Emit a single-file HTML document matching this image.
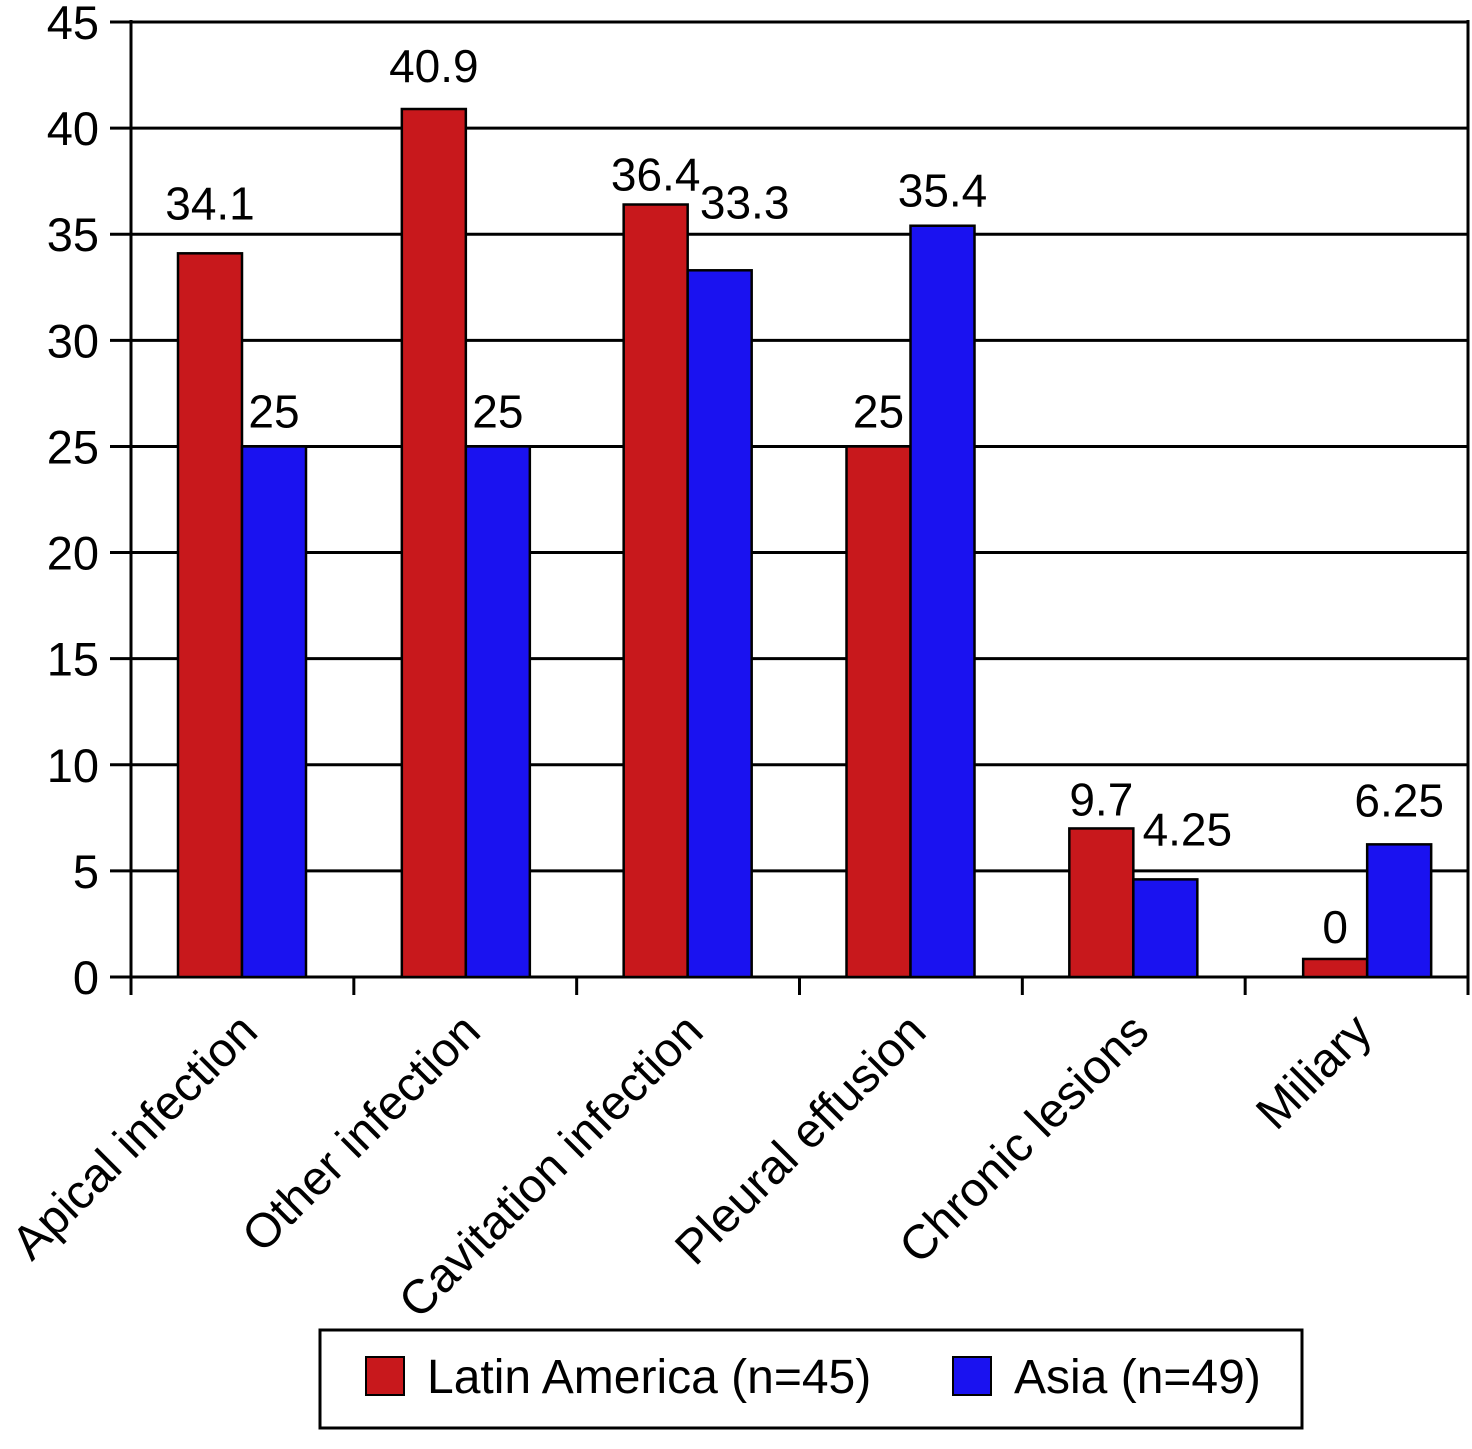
<!DOCTYPE html>
<html><head><meta charset="utf-8"><style>
html,body{margin:0;padding:0;background:#fff;}
svg{display:block;font-family:"Liberation Sans",Arial,sans-serif;}
</style></head><body>
<svg id="chart" width="1472" height="1449" viewBox="0 0 1472 1449" xmlns="http://www.w3.org/2000/svg">
<g id="grid"></g><g id="bars"></g><g id="labels"></g><g id="axes"></g>
<g>
<rect x="320" y="1330" width="982" height="98" fill="#fff" stroke="#000" stroke-width="3"/>
<rect x="366" y="1357" width="38" height="38" fill="#c8181c" stroke="#000" stroke-width="2"/>
<text x="427" y="1393" font-size="48">Latin America (n=45)</text>
<rect x="953" y="1357" width="38" height="38" fill="#1a12f0" stroke="#000" stroke-width="2"/>
<text x="1014" y="1393" font-size="48">Asia (n=49)</text>
</g>
</svg>
<script>
const categories = ["Apical infection","Other infection","Cavitation infection","Pleural effusion","Chronic lesions","Miliary"];
const latinValues = [34.1, 40.9, 36.4, 25, 7.0, 0.85];
const asiaValues = [25, 25, 33.3, 35.4, 4.6, 6.25];
const latinLabels = ["34.1","40.9","36.4","25","9.7","0"];
const asiaLabels = ["25","25","33.3","35.4","4.25","6.25"];
const yTicks = [0,5,10,15,20,25,30,35,40,45];

// layout-only nudges for value labels (pixels)
const latinNudgeY = [-34,-27,-14,-19,-13,-16];
const asiaNudgeX = [0,0,25,0,22,0];
const asiaNudgeY = [-19,-19,-52,-19,-34,-28];
const groupOffset = [47,48,47,47,47,58];

const NS = "http://www.w3.org/2000/svg";
const x0 = 131, x1 = 1468, yBase = 977, yTop = 22, yMax = 45;
const catW = (x1 - x0) / categories.length;
function y(v){ return yBase - v / yMax * (yBase - yTop); }
function xCat(i){ return x0 + i * catW; }
function mk(tag, attrs, parent){ const e = document.createElementNS(NS, tag); for (const k in attrs) e.setAttribute(k, attrs[k]); parent.appendChild(e); return e; }
const grid = document.getElementById('grid'), bars = document.getElementById('bars'), labels = document.getElementById('labels'), axes = document.getElementById('axes');

yTicks.forEach(t => {
  const l = mk('line', {x1:110, x2:x1, y1:y(t), y2:y(t), stroke:'#000', 'stroke-width':3}, grid);
  
  
  const tx = mk('text', {x:99, y:y(t)+17, 'text-anchor':'end', 'font-size':47}, axes);
  tx.textContent = t;
  
  
});
const ya = mk('line', {x1:x0, x2:x0, y1:yTop-2, y2:995, stroke:'#000', 'stroke-width':3}, axes);


const rb = mk('line', {x1:x1, x2:x1, y1:yTop-2, y2:995, stroke:'#000', 'stroke-width':3}, axes);


for (let i = 1; i < categories.length; i++) {
  const tk = mk('line', {x1:xCat(i), x2:xCat(i), y1:yBase, y2:995, stroke:'#000', 'stroke-width':3}, axes);
  
  
}
const bw = 64;
categories.forEach((c, i) => {
  const bx = xCat(i) + groupOffset[i];
  const r = mk('rect', {x:bx, y:y(latinValues[i]), width:bw, height:yBase - y(latinValues[i]), fill:'#c8181c', stroke:'#000', 'stroke-width':2.5}, bars);
  
  
  const b = mk('rect', {x:bx+bw, y:y(asiaValues[i]), width:bw, height:yBase - y(asiaValues[i]), fill:'#1a12f0', stroke:'#000', 'stroke-width':2.5}, bars);
  
  
  const lt = mk('text', {x:bx+bw/2, y:y(latinValues[i])+latinNudgeY[i], 'text-anchor':'middle', 'font-size':46}, labels);
  lt.textContent = latinLabels[i];
  
  
  const at = mk('text', {x:bx+bw*1.5+asiaNudgeX[i], y:y(asiaValues[i])+asiaNudgeY[i], 'text-anchor':'middle', 'font-size':46}, labels);
  at.textContent = asiaLabels[i];
  
  
  const cx = xCat(i) + 47 + bw + 18, cy = 1034;
  const xl = mk('text', {x:cx, y:cy, 'text-anchor':'end', 'font-size':48, transform:'rotate(-45 '+cx+' '+cy+')'}, axes);
  xl.textContent = c;
  
  
});
</script>
</body></html>
